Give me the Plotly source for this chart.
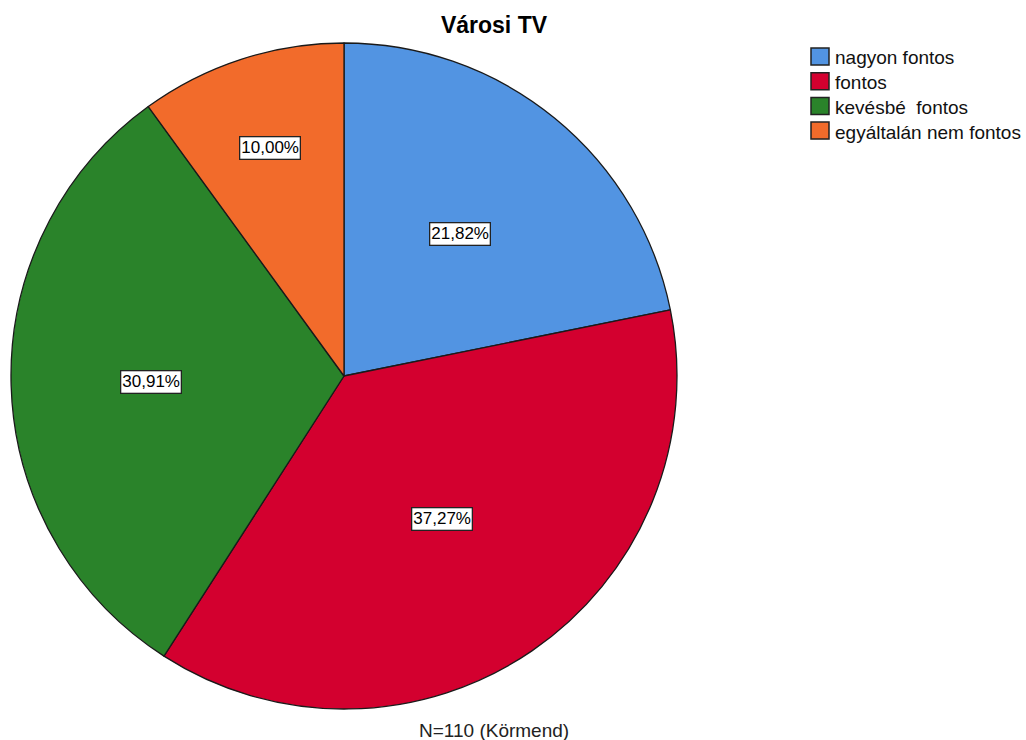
import math
import plotly.graph_objects as go

categories = ["nagyon fontos", "fontos", "kevésbé  fontos", "egyáltalán nem fontos"]
counts = [24, 41, 34, 11]
colors = ["#5294E2", "#D3002F", "#2A832A", "#F26B2B"]
title_text = "Városi TV"
footnote = "N=110 (Körmend)"

W, H = 1026, 740
cx, cy, R = 344, 376, 333  # pie centre/radius in pixels
FONT = "Liberation Sans, Arial, sans-serif"
# radial placement of the percentage boxes (fraction of radius), per slice
label_radius = [0.55, 0.52, 0.58, 0.72]

fig = go.Figure()
fig.add_trace(go.Pie(
    labels=categories,
    values=counts,
    sort=False,
    direction="clockwise",
    rotation=0,
    marker=dict(colors=colors, line=dict(color="#1a1a1a", width=1.3)),
    textinfo="none",
    hoverinfo="label+percent",
    showlegend=False,
    domain=dict(x=[(cx - R) / W, (cx + R) / W], y=[1 - (cy + R) / H, 1 - (cy - R) / H]),
))

total = sum(counts)
cum = 0
annotations = []
shapes = []
for v, lr in zip(counts, label_radius):
    alpha = v / total * 2 * math.pi
    mid = cum / total * 2 * math.pi + alpha / 2
    cum += v
    px = cx + math.sin(mid) * R * lr
    py = cy - math.cos(mid) * R * lr
    pct = f"{v / total * 100:.2f}%".replace(".", ",")
    annotations.append(dict(
        x=px / W, y=1 - py / H, xref="paper", yref="paper", xanchor="center", yanchor="middle",
        text=pct, showarrow=False,
        font=dict(family=FONT, size=17, color="black"),
        bgcolor="white", bordercolor="#222", borderwidth=1.3, borderpad=1,
    ))
annotations.append(dict(
    x=494 / W, y=1 - 730 / H, xref="paper", yref="paper", xanchor="center", yanchor="middle",
    text=footnote, showarrow=False,
    font=dict(family=FONT, size=19, color="#222"),
))

# legend drawn as boxes + text
lx, ly, box, step = 811, 48, 17, 24.7
for i, (cat, col) in enumerate(zip(categories, colors)):
    y0 = ly + i * step
    shapes.append(dict(type="rect", xref="paper", yref="paper",
                       x0=lx / W, x1=(lx + box + 1) / W, y0=1 - (y0 + box) / H, y1=1 - y0 / H,
                       fillcolor=col, line=dict(color="#222", width=1.5)))
    annotations.append(dict(x=(lx + box + 5) / W, y=1 - (y0 + box / 2 + 1.5) / H, xref="paper", yref="paper",
                            xanchor="left", yanchor="middle", text=cat.replace("  ", "&nbsp; "), showarrow=False,
                            font=dict(family=FONT, size=19, color="#111")))

fig.update_layout(
    width=W, height=H,
    margin=dict(l=0, r=0, t=0, b=0),
    paper_bgcolor="white",
    showlegend=False,
    title=dict(text=f"<b>{title_text}</b>", x=494 / W, xanchor="center", y=1 - 25 / H, yanchor="middle",
               font=dict(family=FONT, size=23, color="black")),
    annotations=annotations,
    shapes=shapes,
)

fig.write_html("out.html", config={"displayModeBar": False},
               post_script="document.body.style.margin='0px';")
